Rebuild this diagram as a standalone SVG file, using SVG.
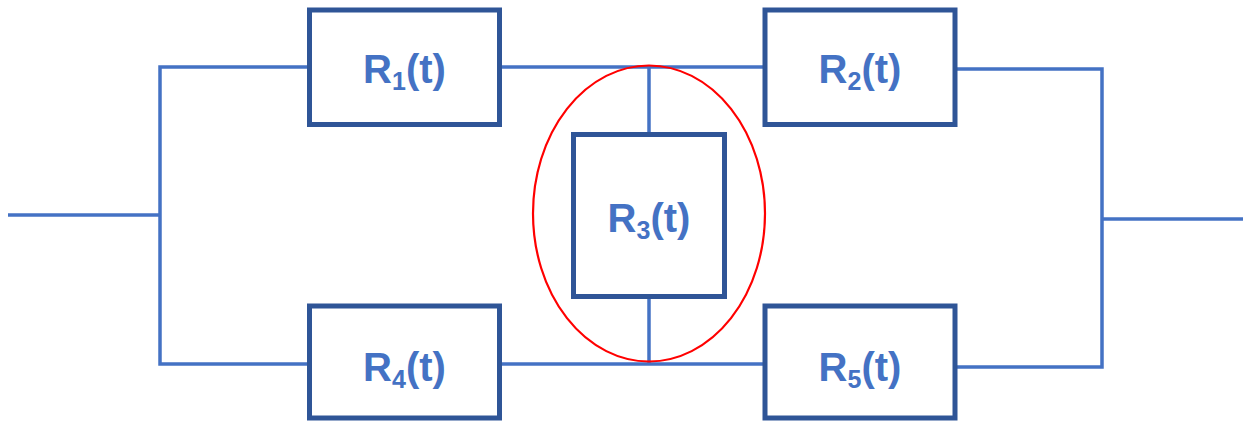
<svg xmlns="http://www.w3.org/2000/svg" width="1243" height="421" viewBox="0 0 1243 421">
<style>
.box{fill:#fff;stroke:#2F5597;stroke-width:5}
.wire{fill:none;stroke:#4472C4;stroke-width:3.5}
.lbl{font-family:"Liberation Sans",Arial,sans-serif;font-weight:bold;font-size:40px;fill:#4472C4;text-anchor:middle}
.sub{font-size:25px}
</style>
<rect width="1243" height="421" fill="#fff"/>
<g id="connectors">
<polyline class="wire" points="8,215 160,215"/>
<polyline class="wire" points="309,67 160,67 160,364 309,364"/>
<line class="wire" x1="500" y1="67" x2="765" y2="67"/>
<line class="wire" x1="500" y1="364" x2="765" y2="364"/>
<line class="wire" x1="649" y1="67" x2="649" y2="134"/>
<line class="wire" x1="649" y1="297" x2="649" y2="364"/>
<polyline class="wire" points="955,69 1102,69 1102,367 955,367"/>
<line class="wire" x1="1102" y1="219" x2="1243" y2="219"/>
</g>
<g id="R1"><rect class="box" x="309.5" y="10" width="190" height="114.5"/><text class="lbl" x="404.5" y="83">R<tspan class="sub" dy="7">1</tspan><tspan dy="-7">(t)</tspan></text></g>
<g id="R2"><rect class="box" x="765" y="10" width="190" height="114.5"/><text class="lbl" x="860" y="83">R<tspan class="sub" dy="7">2</tspan><tspan dy="-7">(t)</tspan></text></g>
<g id="R3"><rect class="box" x="573.5" y="134.5" width="151" height="162"/><text class="lbl" x="649" y="232">R<tspan class="sub" dy="7">3</tspan><tspan dy="-7">(t)</tspan></text></g>
<g id="R4"><rect class="box" x="309.5" y="306" width="190" height="112"/><text class="lbl" x="404.5" y="381">R<tspan class="sub" dy="7">4</tspan><tspan dy="-7">(t)</tspan></text></g>
<g id="R5"><rect class="box" x="765" y="306" width="190" height="112"/><text class="lbl" x="860" y="381">R<tspan class="sub" dy="7">5</tspan><tspan dy="-7">(t)</tspan></text></g>
<g id="highlight"><ellipse cx="649" cy="213.5" rx="116" ry="148" fill="none" stroke="#FF0000" stroke-width="2.2"/></g>
</svg>
